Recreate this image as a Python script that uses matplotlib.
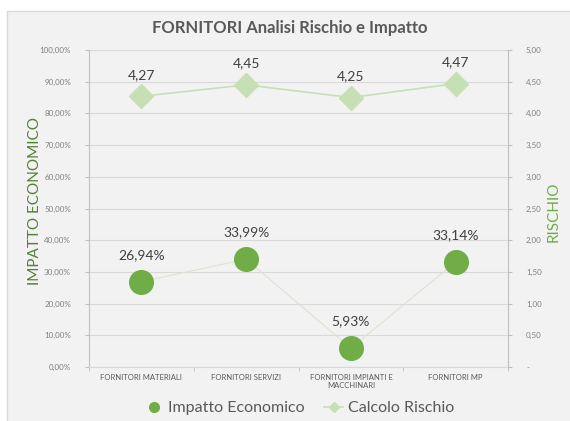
import numpy as np
import matplotlib
matplotlib.use("Agg")
import matplotlib.pyplot as plt
from matplotlib.patches import Rectangle
from matplotlib.lines import Line2D

plt.rcParams['font.family'] = ['Lato', 'DejaVu Sans']

categorie = ["FORNITORI MATERIALI", "FORNITORI SERVIZI",
             "FORNITORI IMPIANTI E\nMACCHINARI", "FORNITORI MP"]
impatto = [0.2694, 0.3399, 0.0593, 0.3314]
rischio = [4.27, 4.45, 4.25, 4.47]
impatto_ticks = np.arange(0, 1.01, 0.1)
rischio_ticks = np.arange(0, 5.01, 0.5)

verde = "#70ad47"
verde_chiaro = "#c5e0b4"
grigio = "#7f7f7f"

fig = plt.figure(figsize=(5.7, 4.21), dpi=100)
fig.patch.set_facecolor("white")
fig.patches.append(Rectangle((7 / 570, -0.01), 1.0, 1 - 11 / 421 + 0.01,
                             transform=fig.transFigure, facecolor="#f2f2f2",
                             edgecolor="#d9d9d9", lw=1, zorder=-10))

ax = fig.add_axes([89 / 570, 1 - 367 / 421, (508 - 89) / 570, (367 - 50) / 421])
ax.set_facecolor("none")
x = np.arange(len(categorie))

ax.plot(x, impatto, color="#e3e0cf", lw=0.8, zorder=2)
ax.plot(x, impatto, "o", color=verde, ms=17, zorder=3)
for xi, v in zip(x, impatto):
    ax.annotate(f"{v * 100:.2f}%".replace(".", ","), (xi, v), xytext=(0, 15),
                textcoords="offset points", ha="center", va="bottom",
                fontsize=10, color="#404040")

ax.set_ylim(0, 1)
ax.set_xlim(-0.5, len(categorie) - 0.5)
ax.set_yticks(impatto_ticks)
ax.set_yticklabels([f"{t * 100:.2f}%".replace(".", ",") for t in impatto_ticks])
ax.set_xticks(x)
ax.set_xticklabels(categorie)
ax.set_xticks(np.arange(-0.5, len(categorie), 1), minor=True)
ax.tick_params(axis="x", which="major", length=0, labelsize=5.5,
               labelcolor="#595959", pad=5)
ax.tick_params(axis="x", which="minor", length=3, color="#bfbfbf")
ax.tick_params(axis="y", length=3, color="#bfbfbf", labelsize=5.8,
               labelcolor=grigio, pad=10)
ax.grid(axis="y", color="#d9d9d9", lw=0.8)
ax.set_axisbelow(True)
for s in ["top", "right"]:
    ax.spines[s].set_visible(False)
ax.spines["left"].set_color("#bfbfbf")
ax.spines["bottom"].set_color("#d9d9d9")
ax.set_ylabel("IMPATTO ECONOMICO", color="#548235", fontsize=11)
ax.yaxis.set_label_coords(-0.112, 0.523)

ax2 = ax.twinx()
ax2.plot(x, rischio, color=verde_chiaro, lw=1.2, marker="D", ms=12,
         mfc=verde_chiaro, mec=verde_chiaro, zorder=3)
for xi, v in zip(x, rischio):
    ax2.annotate(f"{v:.2f}".replace(".", ","), (xi, v), xytext=(0, 11),
                 textcoords="offset points", ha="center", va="bottom",
                 fontsize=10, color="#404040")
ax2.set_ylim(0, 5)
ax2.set_yticks(rischio_ticks)
ax2.set_yticklabels(["-"] + [f"{t:.2f}".replace(".", ",") for t in rischio_ticks[1:]])
ax2.tick_params(axis="y", length=3, color="#bfbfbf", labelsize=5.8,
                labelcolor=grigio, pad=10)
for s in ["top", "left", "bottom"]:
    ax2.spines[s].set_visible(False)
ax2.spines["right"].set_color("#bfbfbf")
ax2.set_ylabel("RISCHIO", color=verde, fontsize=11)
ax2.yaxis.set_label_coords(1.092, 0.49)

fig.text(0.508, 1 - 28 / 421, "FORNITORI Analisi Rischio e Impatto",
         ha="center", va="center", fontsize=12, fontweight="bold", color="#595959")

handles = [Line2D([], [], ls="none", marker="o", color=verde, ms=7),
           Line2D([], [], color=verde_chiaro, lw=1.2, marker="D", ms=5)]
fig.legend(handles, ["Impatto Economico", "Calcolo Rischio"],
           loc="center", bbox_to_anchor=(0.525, 1 - 408 / 421), ncol=2,
           frameon=False, fontsize=11.5, labelcolor="#595959",
           handlelength=1.2, handletextpad=0.3, columnspacing=1.2)

fig.savefig("out.png", dpi=100, facecolor="white")
